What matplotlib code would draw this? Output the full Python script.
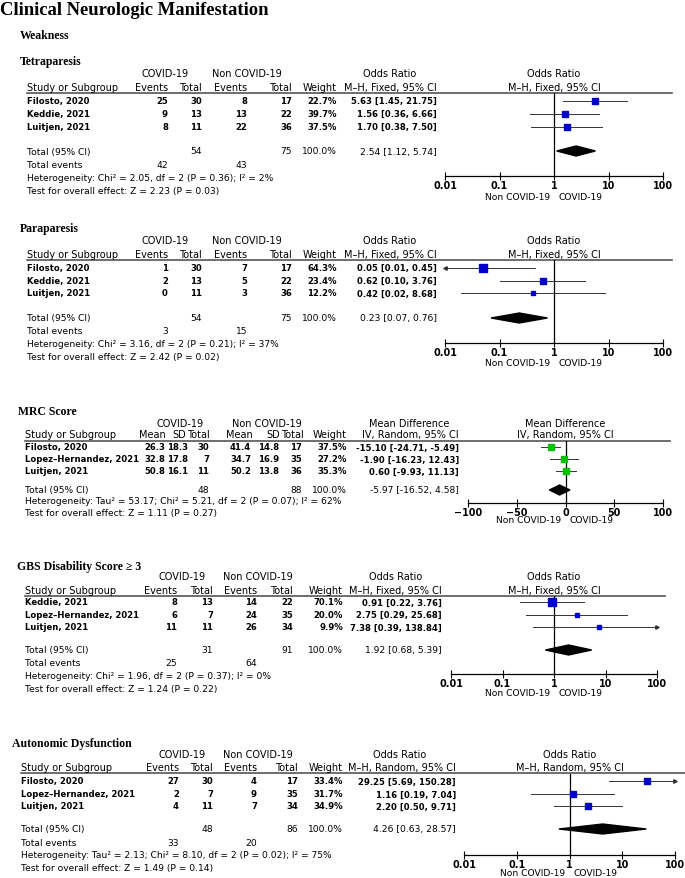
import matplotlib.pyplot as plt
from matplotlib.ticker import NullLocator

W, H = 685, 879
SANS = 'DejaVu Sans'
SERIF = 'Liberation Serif'
FS = 6.6
BFS = 6.1

# ---------------- data ----------------
# Tetraparesis
tet_study = ["Filosto, 2020", "Keddie, 2021", "Luitjen, 2021"]
tet_e1 = [25, 9, 8]
tet_n1 = [30, 13, 11]
tet_e2 = [8, 13, 22]
tet_n2 = [17, 22, 36]
tet_w = [22.7, 39.7, 37.5]
tet_or = [5.63, 1.56, 1.70]
tet_lo = [1.45, 0.36, 0.38]
tet_hi = [21.75, 6.66, 7.50]
tet_pool = (2.54, 1.12, 5.74)
tet_tot = (54, 75)
tet_ev = (42, 43)
tet_het = "Heterogeneity: Chi² = 2.05, df = 2 (P = 0.36); I² = 2%"
tet_test = "Test for overall effect: Z = 2.23 (P = 0.03)"

# Paraparesis
par_study = ["Filosto, 2020", "Keddie, 2021", "Luitjen, 2021"]
par_e1 = [1, 2, 0]
par_n1 = [30, 13, 11]
par_e2 = [7, 5, 3]
par_n2 = [17, 22, 36]
par_w = [64.3, 23.4, 12.2]
par_or = [0.05, 0.62, 0.42]
par_lo = [0.01, 0.10, 0.02]
par_hi = [0.45, 3.76, 8.68]
par_pool = (0.23, 0.07, 0.76)
par_tot = (54, 75)
par_ev = (3, 15)
par_het = "Heterogeneity: Chi² = 3.16, df = 2 (P = 0.21); I² = 37%"
par_test = "Test for overall effect: Z = 2.42 (P = 0.02)"

# MRC score
mrc_study = ["Filosto, 2020", "Lopez–Hernandez, 2021", "Luitjen, 2021"]
mrc_m1 = [26.3, 32.8, 50.8]
mrc_sd1 = [18.3, 17.8, 16.1]
mrc_n1 = [30, 7, 11]
mrc_m2 = [41.4, 34.7, 50.2]
mrc_sd2 = [14.8, 16.9, 13.8]
mrc_n2 = [17, 35, 36]
mrc_w = [37.5, 27.2, 35.3]
mrc_md = [-15.10, -1.90, 0.60]
mrc_lo = [-24.71, -16.23, -9.93]
mrc_hi = [-5.49, 12.43, 11.13]
mrc_pool = (-5.97, -16.52, 4.58)
mrc_tot = (48, 88)
mrc_het = "Heterogeneity: Tau² = 53.17; Chi² = 5.21, df = 2 (P = 0.07); I² = 62%"
mrc_test = "Test for overall effect: Z = 1.11 (P = 0.27)"

# GBS disability score >= 3
gbs_study = ["Keddie, 2021", "Lopez–Hernandez, 2021", "Luitjen, 2021"]
gbs_e1 = [8, 6, 11]
gbs_n1 = [13, 7, 11]
gbs_e2 = [14, 24, 26]
gbs_n2 = [22, 35, 34]
gbs_w = [70.1, 20.0, 9.9]
gbs_or = [0.91, 2.75, 7.38]
gbs_lo = [0.22, 0.29, 0.39]
gbs_hi = [3.76, 25.68, 138.84]
gbs_pool = (1.92, 0.68, 5.39)
gbs_tot = (31, 91)
gbs_ev = (25, 64)
gbs_het = "Heterogeneity: Chi² = 1.96, df = 2 (P = 0.37); I² = 0%"
gbs_test = "Test for overall effect: Z = 1.24 (P = 0.22)"

# Autonomic dysfunction
aut_study = ["Filosto, 2020", "Lopez–Hernandez, 2021", "Luitjen, 2021"]
aut_e1 = [27, 2, 4]
aut_n1 = [30, 7, 11]
aut_e2 = [4, 9, 7]
aut_n2 = [17, 35, 34]
aut_w = [33.4, 31.7, 34.9]
aut_or = [29.25, 1.16, 2.20]
aut_lo = [5.69, 0.19, 0.50]
aut_hi = [150.28, 7.04, 9.71]
aut_pool = (4.26, 0.63, 28.57)
aut_tot = (48, 86)
aut_ev = (33, 20)
aut_het = "Heterogeneity: Tau² = 2.13; Chi² = 8.10, df = 2 (P = 0.02); I² = 75%"
aut_test = "Test for overall effect: Z = 1.49 (P = 0.14)"

fig = plt.figure(figsize=(W / 100, H / 100), dpi=100)
bg = fig.add_axes([0, 0, 1, 1])
bg.set_xlim(0, W)
bg.set_ylim(H, 0)
bg.axis('off')


def txt(x, y, s, ha='left', bold=False, size=None, family=SANS, va='center'):
    if size is None:
        size = BFS if bold else FS
    bg.text(x, y, s, ha=ha, va=va, fontsize=size, family=family,
            fontweight='bold' if bold else 'normal')


def fmt_ci(e, l, h):
    return "%.2f [%.2f, %.2f]" % (e, l, h)


def draw_forest(lay, est, lo, hi, w, pool, color, log=True):
    x0, x1 = lay['fx']
    ay, ly = lay['axis_y'], lay['line_y']
    ax = fig.add_axes([x0 / W, 1 - ay / H, (x1 - x0) / W, (ay - ly) / H])
    if log:
        ax.set_xscale('log')
        lims = (0.01, 100)
        ticks = [0.01, 0.1, 1, 10, 100]
        labels = ['0.01', '0.1', '1', '10', '100']
        null = 1
    else:
        lims = (-100, 100)
        ticks = [-100, -50, 0, 50, 100]
        labels = ['−100', '−50', '0', '50', '100']
        null = 0
    ax.set_xlim(lims)
    ax.set_ylim(ay, ly)
    ax.patch.set_visible(False)
    for s in ['top', 'left', 'right']:
        ax.spines[s].set_visible(False)
    ax.spines['bottom'].set_linewidth(0.9)
    ax.set_yticks([])
    ax.set_xticks(ticks)
    ax.set_xticklabels(labels, fontweight='bold', fontsize=6.9, family=SANS)
    ax.xaxis.set_minor_locator(NullLocator())
    ax.tick_params(axis='x', direction='inout', length=6, width=0.8, pad=0)
    ax.axvline(null, color='black', lw=0.9)
    for y, e, l, h, wt in zip(lay['rows'], est, lo, hi, w):
        ax.plot([max(l, lims[0]), min(h, lims[1])], [y, y], color='#333333', lw=0.7, clip_on=False)
        if l <= lims[0]:
            ax.plot(lims[0], y, marker='<', ms=2.5, color='#333333', clip_on=False)
        if h >= lims[1]:
            ax.plot(lims[1], y, marker='>', ms=2.5, color='#333333', clip_on=False)
        side = 1.05 * wt ** 0.5
        ax.plot(e, y, marker='s', ms=side * 0.72, color=color, mec=color, clip_on=False)
    py = lay['total_y']
    ax.fill([pool[1], pool[0], pool[2], pool[0]], [py, py - 5, py, py + 5],
            color='black', clip_on=False)
    ax.annotate('Non COVID-19', xy=(null, lay['lab_y']), xytext=(-3, 0), textcoords='offset points',
                ha='right', va='center', fontsize=FS, family=SANS, annotation_clip=False)
    ax.annotate('COVID-19', xy=(null, lay['lab_y']), xytext=(3, 0), textcoords='offset points',
                ha='left', va='center', fontsize=FS, family=SANS, annotation_clip=False)
    return (x0 + x1) / 2


def draw_panel(title, lay, study, cols, headers, est, lo, hi, w, pool, tot, tot_idx,
               ev, het, test, measure, method, color, log=True):
    tx, ty = lay['title']
    txt(tx, ty, title, bold=True, size=8.5, family=SERIF)
    sx = lay['study_x']
    cx = lay['col_x']
    hx = lay.get('hdr_x', cx)
    txt(lay['grp'][0], lay['grp_y'], 'COVID-19', ha='center', size=FS + 0.4)
    txt(lay['grp'][1], lay['grp_y'], 'Non COVID-19', ha='center', size=FS + 0.4)
    txt(sx, lay['hdr_y'], 'Study or Subgroup', size=FS + 0.4)
    for x, hd in zip(hx, headers):
        txt(x, lay['hdr_y'], hd, ha='right', size=FS + 0.4)
    txt(lay['est_hdr'], lay['grp_y'], measure, ha='center', size=FS + 0.4)
    txt(lay['est_x'], lay['hdr_y'], method, ha='right', size=FS + 0.4)
    bg.plot([sx, lay['line_end']], [lay['line_y']] * 2, color='#555555', lw=1.2)
    for i, y in enumerate(lay['rows']):
        txt(sx, y, study[i], bold=True)
        for x, col in zip(cx, cols):
            txt(x, y, col[i], ha='right', bold=True)
        txt(lay['est_x'], y, fmt_ci(est[i], lo[i], hi[i]), ha='right', bold=True)
    yt = lay['total_y']
    txt(sx, yt, 'Total (95% CI)')
    txt(cx[tot_idx[0]], yt, str(tot[0]), ha='right')
    txt(cx[tot_idx[1]], yt, str(tot[1]), ha='right')
    txt(cx[-1], yt, '100.0%', ha='right')
    txt(lay['est_x'], yt, fmt_ci(*pool), ha='right')
    if ev is not None:
        txt(sx, lay['ev_y'], 'Total events')
        txt(cx[0], lay['ev_y'], str(ev[0]), ha='right')
        txt(cx[2], lay['ev_y'], str(ev[1]), ha='right')
    txt(sx, lay['het_y'], het)
    txt(sx, lay['test_y'], test)
    null = draw_forest(lay, est, lo, hi, w, pool, color, log=log)
    txt(null, lay['grp_y'], measure, ha='center', size=FS + 0.4)
    txt(null, lay['hdr_y'], method, ha='center', size=FS + 0.4)


def pct(w):
    return ["%.1f%%" % v for v in w]


def ints(v):
    return [str(x) for x in v]


def flt(v):
    return ["%.1f" % x for x in v]


or_headers = ['Events', 'Total', 'Events', 'Total', 'Weight']

txt(0, 15, 'Clinical Neurologic Manifestation', bold=True, size=13.4, family=SERIF, va='baseline')
txt(20, 36, 'Weakness', bold=True, size=8.5, family=SERIF)

lay_tet = dict(title=(20, 62), study_x=27, col_x=[168, 202, 247, 292, 337], grp=(165, 247),
               grp_y=74, hdr_y=88, line_y=94, line_end=672, rows=[101.5, 114.5, 127.5],
               total_y=152, ev_y=166, het_y=178.5, test_y=191.5, est_x=437, est_hdr=390,
               fx=(445, 663), axis_y=177, lab_y=197)
draw_panel('Tetraparesis', lay_tet, tet_study,
           [ints(tet_e1), ints(tet_n1), ints(tet_e2), ints(tet_n2), pct(tet_w)], or_headers,
           tet_or, tet_lo, tet_hi, tet_w, tet_pool, tet_tot, (1, 3), tet_ev, tet_het, tet_test,
           'Odds Ratio', 'M–H, Fixed, 95% CI', '#0000CC')

lay_par = dict(title=(20, 229), study_x=27, col_x=[168, 202, 247, 292, 337], grp=(165, 247),
               grp_y=241, hdr_y=255, line_y=261, line_end=672, rows=[268.5, 281.5, 294],
               total_y=319, ev_y=332, het_y=345, test_y=357.5, est_x=437, est_hdr=390,
               fx=(445, 663), axis_y=344, lab_y=363)
draw_panel('Paraparesis', lay_par, par_study,
           [ints(par_e1), ints(par_n1), ints(par_e2), ints(par_n2), pct(par_w)], or_headers,
           par_or, par_lo, par_hi, par_w, par_pool, par_tot, (1, 3), par_ev, par_het, par_test,
           'Odds Ratio', 'M–H, Fixed, 95% CI', '#0000CC')

lay_mrc = dict(title=(18, 412), study_x=25, col_x=[165, 188, 209, 251, 279, 302, 347],
               hdr_x=[166, 186, 210, 253, 280, 304, 347],
               grp=(180, 267), grp_y=424, hdr_y=435.5, line_y=441.5, line_end=670,
               rows=[448, 460, 472], total_y=491, ev_y=None, het_y=502, test_y=513.5,
               est_x=459, est_hdr=409, fx=(468, 663), axis_y=504, lab_y=521)
draw_panel('MRC Score', lay_mrc, mrc_study,
           [flt(mrc_m1), flt(mrc_sd1), ints(mrc_n1), flt(mrc_m2), flt(mrc_sd2), ints(mrc_n2), pct(mrc_w)],
           ['Mean', 'SD', 'Total', 'Mean', 'SD', 'Total', 'Weight'],
           mrc_md, mrc_lo, mrc_hi, mrc_w, mrc_pool, mrc_tot, (2, 5), None, mrc_het, mrc_test,
           'Mean Difference', 'IV, Random, 95% CI', '#00C000', log=False)

lay_gbs = dict(title=(17, 567), study_x=25, col_x=[177, 213, 257, 293, 343], grp=(182, 258),
               grp_y=577, hdr_y=591, line_y=597, line_end=665, rows=[603, 615.5, 628],
               total_y=651, ev_y=664, het_y=677, test_y=689.5, est_x=442, est_hdr=396,
               fx=(451, 657), axis_y=675, lab_y=694)
draw_panel('GBS Disability Score ≥ 3', lay_gbs, gbs_study,
           [ints(gbs_e1), ints(gbs_n1), ints(gbs_e2), ints(gbs_n2), pct(gbs_w)], or_headers,
           gbs_or, gbs_lo, gbs_hi, gbs_w, gbs_pool, gbs_tot, (1, 3), gbs_ev, gbs_het, gbs_test,
           'Odds Ratio', 'M–H, Fixed, 95% CI', '#0000CC')

lay_aut = dict(title=(12, 744), study_x=21, col_x=[179, 213, 257, 298, 343], grp=(182, 258),
               grp_y=755, hdr_y=768.5, line_y=774.5, line_end=685, rows=[782, 795, 807],
               total_y=830, ev_y=844, het_y=856, test_y=868.5, est_x=456, est_hdr=400,
               fx=(464, 675), axis_y=856, lab_y=874)
draw_panel('Autonomic Dysfunction', lay_aut, aut_study,
           [ints(aut_e1), ints(aut_n1), ints(aut_e2), ints(aut_n2), pct(aut_w)], or_headers,
           aut_or, aut_lo, aut_hi, aut_w, aut_pool, aut_tot, (1, 3), aut_ev, aut_het, aut_test,
           'Odds Ratio', 'M–H, Random, 95% CI', '#0000CC')

fig.savefig('out.png', dpi=100)
